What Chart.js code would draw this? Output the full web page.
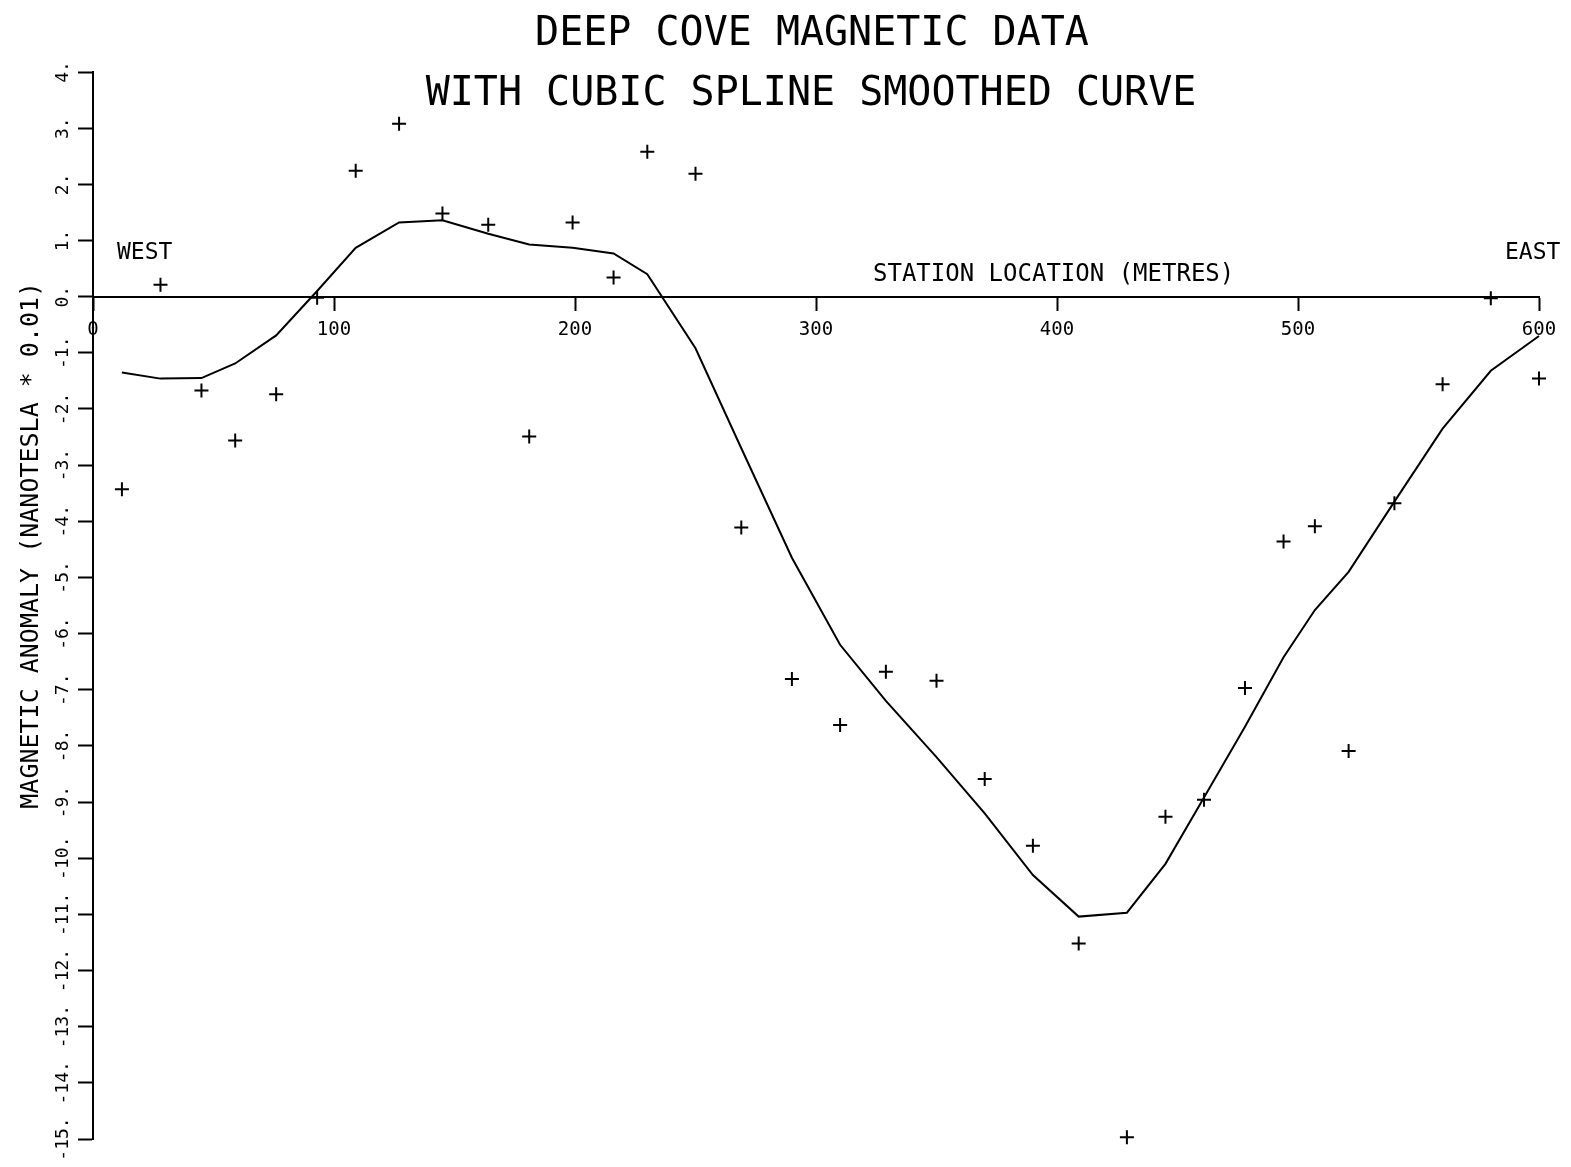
<!DOCTYPE html>
<html>
<head>
<meta charset="utf-8">
<script src="https://cdn.jsdelivr.net/npm/chart.js@4"></script>
<style>
body{margin:0;background:#fff}
#wrap{width:1571px;height:1167px}
</style>
</head>
<body>
<div id="wrap"><canvas id="grafico"></canvas></div>
<script>
// station positions along the line (metres)
let stations=[12,28,45,59,76,93,109,127,145,164,181,199,216,230,250,269,290,310,329,350,370,390,409,429,445,461,478,494,507,521,540,560,580,600]

// measured anomaly (nT * 0.01)
let anomalia=[-3.43,0.21,-1.67,-2.56,-1.74,-0.02,2.24,3.08,1.48,1.28,-2.49,1.32,0.34,2.58,2.19,-4.11,-6.81,-7.63,-6.68,-6.84,-8.59,-9.78,-11.52,-14.97,-9.26,-8.96,-6.97,-4.36,-4.09,-8.09,-3.68,-1.56,-0.03,-1.46]

// cubic spline smoothed curve at the same stations
let suavizado=[-1.35,-1.46,-1.45,-1.19,-0.69,0.1,0.87,1.32,1.36,1.12,0.93,0.87,0.77,0.40,-0.92,-2.70,-4.65,-6.2,-7.2,-8.2,-9.2,-10.3,-11.04,-10.97,-10.1,-8.92,-7.66,-6.42,-5.58,-4.9,-3.65,-2.35,-1.32,-0.7]

let xTicks=[0,100,200,300,400,500,600]
let yMin=-15
let yMax=4

let titulo=["DEEP COVE MAGNETIC DATA","WITH CUBIC SPLINE SMOOTHED CURVE"]
let tituloY="MAGNETIC ANOMALY (NANOTESLA * 0.01)"

let mono="'DejaVu Sans Mono', monospace"

let pontos=stations.map((s,i)=>({x:s,y:anomalia[i]}))
let curva=stations.map((s,i)=>({x:s,y:suavizado[i]}))

// titles and the WEST / EAST / axis name labels
let textos={
id:"textos",
afterDraw(chart){
let ctx=chart.ctx
ctx.save()
ctx.fillStyle="#000"
ctx.textBaseline="alphabetic"
ctx.font="40px "+mono
ctx.textAlign="center"
ctx.fillText(titulo[0],812,45)
ctx.fillText(titulo[1],811,105)
ctx.font="23px "+mono
ctx.textAlign="left"
ctx.fillText("WEST",117,259)
ctx.fillText("EAST",1505,259)
ctx.font="24px "+mono
ctx.fillText("STATION LOCATION (METRES)",873,281)
ctx.restore()
}
}

new Chart(document.getElementById("grafico"),{
type:"scatter",
data:{
datasets:[
{
label:"dados",
data:pontos,
pointStyle:"cross",
pointRadius:7,
pointBorderWidth:2,
borderColor:"#000",
backgroundColor:"#000",
clip:false
},
{
label:"spline",
data:curva,
showLine:true,
borderColor:"#000",
borderWidth:2,
pointRadius:0,
tension:0,
clip:false
}
]
},
options:{
responsive:true,
maintainAspectRatio:false,
animation:false,
layout:{padding:{left:0,right:32,top:72,bottom:28}},
plugins:{
legend:{display:false},
tooltip:{enabled:false}
},
scales:{
x:{
type:"linear",
position:{y:0},
min:0,
max:600,
afterFit:s=>{s.height=0},
afterBuildTicks:s=>{s.ticks=xTicks.map(v=>({value:v}))},
ticks:{
color:"#000",
font:{family:mono,size:19},
padding:9,
maxRotation:0,
callback:v=>String(v)
},
grid:{display:true,drawOnChartArea:false,drawTicks:true,tickLength:13,tickWidth:2,tickColor:"#000"},
border:{display:true,color:"#000",width:2}
},
y:{
type:"linear",
min:yMin,
max:yMax,
afterFit:s=>{s.width=93},
ticks:{
stepSize:1,
color:"#000",
font:{family:mono,size:18},
minRotation:90,
maxRotation:90,
crossAlign:"center",
padding:-7,
callback:v=>(v<0?"-":"")+Math.abs(v)+"."
},
grid:{display:true,drawOnChartArea:false,drawTicks:true,tickLength:15,tickWidth:2,tickColor:"#000"},
border:{display:true,color:"#000",width:2}
,
title:{
display:true,
text:"        "+tituloY,
color:"#000",
font:{family:mono,size:25},
padding:{top:16,bottom:0}
}
}
}
},
plugins:[textos]
})
</script>
</body>
</html>
